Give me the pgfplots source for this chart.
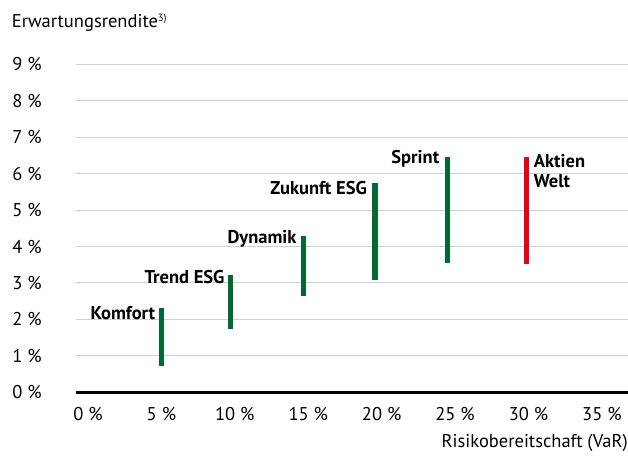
\documentclass[border=0pt]{standalone}
\usepackage{fontspec}
\setmainfont{PT Sans}
\usepackage{pgfplots}
\pgfplotsset{compat=1.18}
\definecolor{bargreen}{RGB}{0,106,50}
\definecolor{barred}{RGB}{226,0,26}
\definecolor{gridgray}{RGB}{208,208,208}
\newcommand\fs{\fontsize{18.5}{21}\selectfont}
\begin{document}
\begin{tikzpicture}
\begin{axis}[
  name=ax,
  at={(0,0)}, anchor=south west,
  scale only axis,
  width=552pt, height=328pt,
  xmin=-0.817, xmax=36.78,
  ymin=0, ymax=9,
  axis line style={draw=none},
  major tick length=0pt,
  xtick={0,5,10,15,20,25,30,35},
  xticklabels={0 \%,5 \%,10 \%,15 \%,20 \%,25 \%,30 \%,35 \%},
  ytick={1,2,3,4,5,6,7,8,9},
  yticklabels={1 \%,2 \%,3 \%,4 \%,5 \%,6 \%,7 \%,8 \%,9 \%},
  extra y ticks={0},
  extra y tick labels={0 \%},
  extra y tick style={grid style={black, line width=2.7pt}},
  ymajorgrids,
  grid style={gridgray, line width=1pt},
  tick label style={font=\fs},
  yticklabel style={anchor=east, inner sep=0pt, xshift=-34pt},
  xticklabel style={anchor=north, inner sep=0pt, yshift=-15pt},
  clip=false,
]
\addplot[bargreen, line width=5.3pt] coordinates {(5.0,0.72) (5.0,2.30)};
\addplot[bargreen, line width=5.3pt] coordinates {(9.72,1.73) (9.72,3.22)};
\addplot[bargreen, line width=5.3pt] coordinates {(14.69,2.65) (14.69,4.29)};
\addplot[bargreen, line width=5.3pt] coordinates {(19.55,3.08) (19.55,5.74)};
\addplot[bargreen, line width=5.3pt] coordinates {(24.48,3.54) (24.48,6.45)};
\addplot[barred, line width=5.3pt] coordinates {(29.88,3.52) (29.88,6.47)};
\node[anchor=east, inner sep=0pt, font=\fs\bfseries] at (axis cs:5.0,2.30) [xshift=-6pt, yshift=-5pt] {Komfort};
\node[anchor=east, inner sep=0pt, font=\fs\bfseries] at (axis cs:9.72,3.22) [xshift=-6pt, yshift=-2pt] {Trend ESG};
\node[anchor=east, inner sep=0pt, font=\fs\bfseries] at (axis cs:14.69,4.29) [xshift=-7pt, yshift=-3pt] {Dynamik};
\node[anchor=east, inner sep=0pt, font=\fs\bfseries] at (axis cs:19.55,5.74) [xshift=-8pt, yshift=-5pt] {Zukunft ESG};
\node[anchor=east, inner sep=0pt, font=\fs\bfseries] at (axis cs:24.48,6.45) [xshift=-8pt, yshift=-2pt] {Sprint};
\node[anchor=north west, inner sep=0pt, align=left, font=\fs\bfseries] at (axis cs:29.88,6.47) [xshift=7pt, yshift=2pt] {Aktien\\[-1pt]Welt};
\end{axis}
\node[anchor=west, inner sep=0pt, font=\fs] at (-64.3pt, 369.3pt) {Erwartungsrendite\textsuperscript{\fontsize{10.5}{10.5}\selectfont 3)}};
\node[anchor=east, inner sep=0pt, font=\fs] at (552pt, -51pt) {Risikobereitschaft (VaR)};
\pgfresetboundingbox
\useasboundingbox (-76pt,-66.7pt) rectangle (552pt,392.3pt);
\end{tikzpicture}
\end{document}
